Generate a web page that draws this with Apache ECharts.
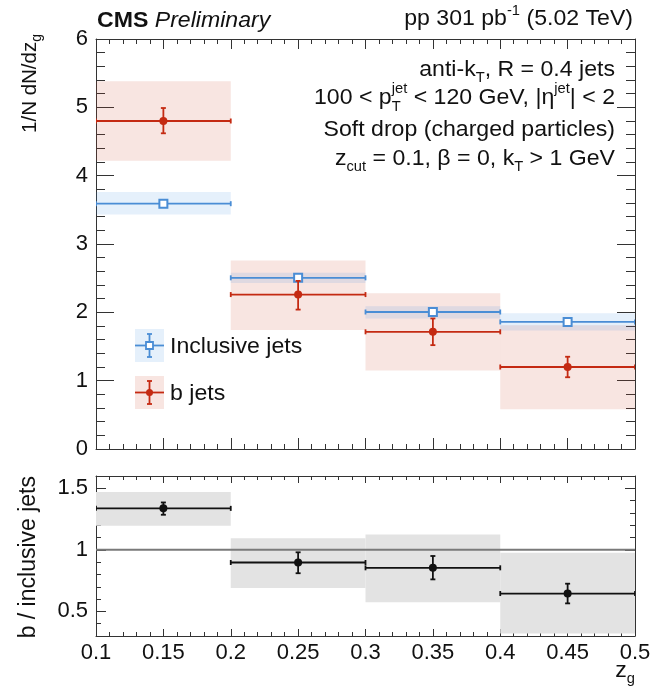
<!DOCTYPE html>
<html>
<head>
<meta charset="utf-8">
<script src="https://cdn.jsdelivr.net/npm/echarts@6/dist/echarts.min.js"></script>
<style>html,body{margin:0;padding:0;background:#fff;}#c{width:652px;height:686px;}</style>
</head>
<body>
<div id="c"></div>
<script>
// ---- data ----
const zgLow = [0.1, 0.2, 0.3, 0.4];
const zgHigh = [0.2, 0.3, 0.4, 0.5];
const zgCenter = [0.15, 0.25, 0.35, 0.45];

const inclValue = [3.59, 2.505, 2.005, 1.86];
const inclStatLow = [3.57, 2.485, 1.985, 1.84];
const inclStatHigh = [3.61, 2.525, 2.025, 1.88];
const inclSysLow = [3.43, 2.43, 1.91, 1.735];
const inclSysHigh = [3.76, 2.58, 2.09, 1.985];

const bValue = [4.80, 2.26, 1.715, 1.20];
const bStatLow = [4.62, 2.04, 1.52, 1.05];
const bStatHigh = [4.99, 2.46, 1.91, 1.35];
const bSysLow = [4.22, 1.74, 1.15, 0.58];
const bSysHigh = [5.38, 2.76, 2.28, 1.81];

const ratioValue = [1.337, 0.897, 0.854, 0.645];
const ratioStatLow = [1.285, 0.81, 0.76, 0.565];
const ratioStatHigh = [1.385, 0.98, 0.95, 0.725];
const ratioSysLow = [1.195, 0.69, 0.575, 0.32];
const ratioSysHigh = [1.47, 1.095, 1.125, 0.976];

const ratioTickValues = [0.5, 1, 1.5];
const unityValue = 1;

const legendNames = ['Inclusive jets', 'b jets'];

// ---- style ----
const FONT = "'Liberation Sans', Arial, Helvetica, sans-serif";
const TEXT = '#111';
const AX = '#333';
const BLUE = '#4a8dd5';
const RED = '#c42a12';
const BLUE_BAND = 'rgba(70,150,225,0.14)';
const RED_BAND = 'rgba(205,70,45,0.14)';
const GRAY_BAND = '#e3e3e3';
const FS = 22, SFS = 14, SX = 1.05;

const measureCtx = document.createElement('canvas').getContext('2d');
function fontStr(s) { return (s.style || 'normal') + ' ' + (s.weight || 'normal') + ' ' + (s.fs || FS) + 'px ' + FONT; }
function layoutLine(segs, x, y, align, sx, extra) {
  const ws = segs.map(s => { measureCtx.font = fontStr(s); return measureCtx.measureText(s.t).width; });
  let total = 0;
  segs.forEach((s, i) => { if (!s.stack) total += ws[i]; });
  let cx = align === 'right' ? -total : 0;
  const els = [];
  segs.forEach((s, i) => {
    els.push({ type: 'text', x: cx, y: (s.dy || 0),
      style: { text: s.t, font: fontStr(s), fill: TEXT, align: 'left', verticalAlign: 'middle' } });
    if (!s.stack) cx += ws[i];
  });
  return Object.assign({ type: 'group', x: x, y: y, scaleX: sx || 1, z: 10, children: els }, extra || {});
}

function bandData(lo, hi) { return zgLow.map((l, i) => [l, zgHigh[i], lo[i], hi[i]]); }
function pointData(v, lo, hi) { return zgLow.map((l, i) => [l, zgHigh[i], zgCenter[i], v[i], lo[i], hi[i]]); }

function bandRender(color) {
  return function (params, api) {
    const p0 = api.coord([api.value(0), api.value(3)]);
    const p1 = api.coord([api.value(1), api.value(2)]);
    return { type: 'rect', shape: { x: p0[0], y: p0[1], width: p1[0] - p0[0], height: p1[1] - p0[1] },
      style: { fill: color } };
  };
}
function pointRender(color, marker, lw) {
  return function (params, api) {
    const y = api.value(3), xc = api.value(2);
    const pL = api.coord([api.value(0), y]);
    const pH = api.coord([api.value(1), y]);
    const pc = api.coord([xc, y]);
    const s1 = api.coord([xc, api.value(4)]);
    const s2 = api.coord([xc, api.value(5)]);
    const c = 2.5;
    const st = { stroke: color, lineWidth: lw };
    const ch = [
      { type: 'line', shape: { x1: pL[0], y1: pL[1], x2: pH[0], y2: pH[1] }, style: st },
      { type: 'line', shape: { x1: pL[0], y1: pL[1] - c, x2: pL[0], y2: pL[1] + c }, style: st },
      { type: 'line', shape: { x1: pH[0], y1: pH[1] - c, x2: pH[0], y2: pH[1] + c }, style: st },
      { type: 'line', shape: { x1: s1[0], y1: s1[1], x2: s2[0], y2: s2[1] }, style: st },
      { type: 'line', shape: { x1: s1[0] - c, y1: s1[1], x2: s1[0] + c, y2: s1[1] }, style: st },
      { type: 'line', shape: { x1: s2[0] - c, y1: s2[1], x2: s2[0] + c, y2: s2[1] }, style: st }
    ];
    if (marker === 'square') {
      ch.push({ type: 'rect', shape: { x: pc[0] - 4, y: pc[1] - 4, width: 8, height: 8 },
        style: { fill: '#fff', stroke: color, lineWidth: 2 } });
    } else {
      ch.push({ type: 'circle', shape: { cx: pc[0], cy: pc[1], r: 4 }, style: { fill: color } });
    }
    return { type: 'group', children: ch };
  };
}

function xAx(gi, pos, showLabel, major, minor) {
  return { type: 'value', gridIndex: gi, position: pos, min: 0.1, max: 0.5, interval: 0.05,
    axisLine: { show: true, onZero: false, lineStyle: { color: AX, width: 1 } },
    axisTick: { show: true, inside: true, length: major, lineStyle: { color: AX } },
    minorTick: { show: true, splitNumber: 5, length: minor, lineStyle: { color: AX } },
    splitLine: { show: false }, minorSplitLine: { show: false },
    axisLabel: { show: showLabel, fontSize: 22, color: TEXT, fontFamily: FONT, margin: 6 } };
}
function yTop(pos, showLabel) {
  return { type: 'value', gridIndex: 0, position: pos, min: 0, max: 6, interval: 1,
    axisLine: { show: true, onZero: false, lineStyle: { color: AX, width: 1 } },
    axisTick: { show: true, inside: true, length: 18, lineStyle: { color: AX } },
    minorTick: { show: true, splitNumber: 5, length: 9, lineStyle: { color: AX } },
    splitLine: { show: false }, minorSplitLine: { show: false },
    axisLabel: { show: showLabel, fontSize: 22, color: TEXT, fontFamily: FONT, margin: 8 } };
}
function yBotMajor(pos, showLabel) {
  return { type: 'value', gridIndex: 1, position: pos, min: 0.3, max: 1.6,
    axisLine: { show: true, onZero: false, lineStyle: { color: AX, width: 1 } },
    axisTick: { show: true, inside: true, length: 10, customValues: ratioTickValues, lineStyle: { color: AX } },
    splitLine: { show: false },
    axisLabel: { show: showLabel, customValues: ratioTickValues, fontSize: 22, color: TEXT, fontFamily: FONT, margin: 8,
      formatter: v => String(Math.round(v * 10) / 10) } };
}
function yBotMinor(pos) {
  return { type: 'value', gridIndex: 1, position: pos, min: 0.3, max: 1.6, interval: 0.1,
    axisLine: { show: false, onZero: false },
    axisTick: { show: true, inside: true, length: 5, lineStyle: { color: AX } },
    splitLine: { show: false }, axisLabel: { show: false } };
}

const graphics = [];
graphics.push(layoutLine([{ t: 'CMS', weight: 'bold' }, { t: ' Preliminary', style: 'italic' }], 97, 21, 'left', SX));
graphics.push(layoutLine([{ t: 'pp 301 pb' }, { t: '-1', fs: SFS, dy: -8 }, { t: ' (5.02 TeV)' }], 633, 19, 'right', SX));
graphics.push(layoutLine([{ t: 'anti-k' }, { t: 'T', fs: SFS, dy: 8 }, { t: ', R = 0.4 jets' }], 615, 70, 'right', SX));
graphics.push(layoutLine([{ t: '100 < p' }, { t: 'T', fs: SFS, dy: 9, stack: true }, { t: 'jet', fs: SFS, dy: -9 },
  { t: ' < 120 GeV, |\u03b7' }, { t: 'jet', fs: SFS, dy: -9 }, { t: '| < 2' }], 615, 98, 'right', SX));
graphics.push(layoutLine([{ t: 'Soft drop (charged particles)' }], 615, 130, 'right', SX));
graphics.push(layoutLine([{ t: 'z' }, { t: 'cut', fs: SFS, dy: 8 }, { t: ' = 0.1, \u03b2 = 0, k' }, { t: 'T', fs: SFS, dy: 8 }, { t: ' > 1 GeV' }], 615, 159, 'right', SX));
graphics.push(layoutLine([{ t: 'z' }, { t: 'g', fs: SFS, dy: 8 }], 635, 671, 'right', SX));
graphics.push({ type: 'group', x: 30, y: 34, rotation: Math.PI / 2, z: 10,
  children: [layoutLine([{ t: '1/N dN/dz', fs: 20.5 }, { t: 'g', fs: 14, dy: 7 }], 0, 0, 'right', 1)] });
graphics.push({ type: 'group', x: 29, y: 476, rotation: Math.PI / 2, z: 10,
  children: [layoutLine([{ t: 'b / inclusive jets', fs: 23 }], 0, 0, 'right', 1)] });

// legend
function legendIcon(x, y, w, h, band, color, marker) {
  const cx = x + w / 2, cy = y + h / 2, c = 2.5;
  const st = { stroke: color, lineWidth: 1.8 };
  const ch = [
    { type: 'rect', shape: { x: x, y: y, width: w, height: h }, style: { fill: band } },
    { type: 'line', shape: { x1: x, y1: cy, x2: x + w, y2: cy }, style: st },
    { type: 'line', shape: { x1: cx, y1: y + 5, x2: cx, y2: y + h - 5 }, style: st },
    { type: 'line', shape: { x1: cx - c, y1: y + 5, x2: cx + c, y2: y + 5 }, style: st },
    { type: 'line', shape: { x1: cx - c, y1: y + h - 5, x2: cx + c, y2: y + h - 5 }, style: st }
  ];
  if (marker === 'square') ch.push({ type: 'rect', shape: { x: cx - 3.5, y: cy - 3.5, width: 7, height: 7 }, style: { fill: '#fff', stroke: color, lineWidth: 1.8 } });
  else ch.push({ type: 'circle', shape: { cx: cx, cy: cy, r: 3.5 }, style: { fill: color } });
  return { type: 'group', z: 10, children: ch };
}
graphics.push(legendIcon(135, 329, 29, 33, BLUE_BAND, BLUE, 'square'));
graphics.push(legendIcon(135, 376, 29, 33, RED_BAND, RED, 'circle'));
graphics.push(layoutLine([{ t: legendNames[0] }], 170, 347, 'left', SX));
graphics.push(layoutLine([{ t: legendNames[1] }], 170, 394, 'left', SX));

const chart = echarts.init(document.getElementById('c'), null, { renderer: 'canvas' });
chart.setOption({
  animation: false,
  backgroundColor: '#fff',
  grid: [
    { left: 96, right: 17, top: 39, height: 410, outerBoundsMode: 'none' },
    { left: 96, right: 17, top: 476, height: 160, outerBoundsMode: 'none' }
  ],
  xAxis: [xAx(0, 'bottom', false, 11, 5), xAx(0, 'top', false, 10, 5), xAx(1, 'bottom', true, 7, 4), xAx(1, 'top', false, 7, 4)],
  yAxis: [yTop('left', true), yTop('right', false), yBotMajor('left', true), yBotMajor('right', false), yBotMinor('left'), yBotMinor('right')],
  series: [
    { type: 'custom', name: 'b jets syst', xAxisIndex: 0, yAxisIndex: 0, z: 1, clip: true, renderItem: bandRender(RED_BAND), data: bandData(bSysLow, bSysHigh) },
    { type: 'custom', name: 'Inclusive syst', xAxisIndex: 0, yAxisIndex: 0, z: 1, clip: true, renderItem: bandRender(BLUE_BAND), data: bandData(inclSysLow, inclSysHigh) },
    { type: 'custom', name: legendNames[0], xAxisIndex: 0, yAxisIndex: 0, z: 3, clip: true, renderItem: pointRender(BLUE, 'square', 1.8), data: pointData(inclValue, inclStatLow, inclStatHigh) },
    { type: 'custom', name: legendNames[1], xAxisIndex: 0, yAxisIndex: 0, z: 3, clip: true, renderItem: pointRender(RED, 'circle', 1.8), data: pointData(bValue, bStatLow, bStatHigh) },
    { type: 'custom', name: 'ratio syst', xAxisIndex: 2, yAxisIndex: 2, z: 1, clip: true, renderItem: bandRender(GRAY_BAND), data: bandData(ratioSysLow, ratioSysHigh) },
    { type: 'line', name: 'unity', xAxisIndex: 2, yAxisIndex: 2, z: 2, symbol: 'none', silent: true,
      lineStyle: { color: '#7a7a7a', width: 2 }, data: [[zgLow[0], unityValue], [zgHigh[zgHigh.length - 1], unityValue]] },
    { type: 'custom', name: 'ratio', xAxisIndex: 2, yAxisIndex: 2, z: 3, clip: true, renderItem: pointRender('#111', 'circle', 1.8), data: pointData(ratioValue, ratioStatLow, ratioStatHigh) }
  ],
  graphic: graphics
});
</script>
</body>
</html>
